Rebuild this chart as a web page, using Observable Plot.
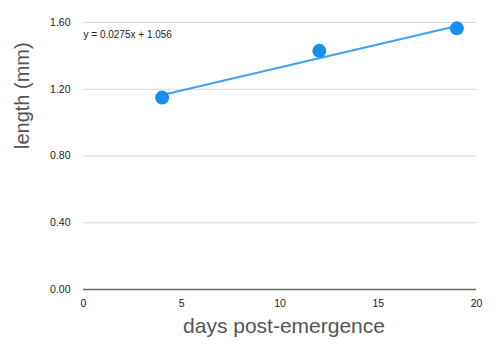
<!DOCTYPE html>
<html><head><meta charset="utf-8">
<script src="https://cdn.jsdelivr.net/npm/d3@7"></script>
<script src="https://cdn.jsdelivr.net/npm/@observablehq/plot@0.6"></script>
<style>body{margin:0;background:#fff;font-family:"Liberation Sans",Arial,sans-serif}</style>
</head><body><div id="chart"></div>
<script>
const days = [4, 12, 19];
const lengths = [1.15, 1.43, 1.565];
const xTicks = [0, 5, 10, 15, 20];
const yTicks = [0, 0.4, 0.8, 1.2, 1.6];
const slope = 0.0275, intercept = 1.056;
const equation = "y = 0.0275x + 1.056";

const pts = days.map((d, i) => ({d, l: lengths[i]}));
const trend = [d3.min(days), d3.max(days)].map(d => ({d, l: slope * d + intercept}));

const chart = Plot.plot({
  width: 500, height: 350,
  marginLeft: 83, marginRight: 24, marginTop: 22, marginBottom: 61,
  style: {fontFamily: "Liberation Sans, Arial, sans-serif", fontSize: "10px", color: "#333", background: "#fff"},
  x: {domain: [0, 20], ticks: xTicks, tickSize: 0, tickPadding: 10, label: null},
  y: {domain: [0, 1.6], ticks: yTicks, tickSize: 0, tickPadding: 13, tickFormat: d3.format(".2f"), label: null},
  marks: [
    Plot.ruleY(yTicks.filter(t => t > 0), {stroke: "#d8d8d8", strokeWidth: 1}),
    Plot.ruleY([0], {stroke: "#666", strokeWidth: 1.5}),
    Plot.axisX({ticks: xTicks, tickSize: 0, tickPadding: 10, label: null, fontSize: 10.5, fill: "#222"}),
    Plot.axisY({ticks: yTicks, tickSize: 0, tickPadding: 13, tickFormat: d3.format(".2f"), label: null, fontSize: 10.5, fill: "#222"}),
    Plot.line(trend, {x: "d", y: "l", stroke: "#3ba3f2", strokeWidth: 2}),
    Plot.dot(pts, {x: "d", y: "l", r: 7, fill: "#1590ee", stroke: "none"}),
    Plot.text([equation], {frameAnchor: "top-left", dx: 0, dy: 8, text: d => d, fontSize: 10, fill: "#222", textAnchor: "start"}),
    Plot.text(["days post-emergence"], {frameAnchor: "bottom", dx: 4, dy: 43, text: d => d, fontSize: 21, fill: "#555"}),
    Plot.text(["length (mm)"], {frameAnchor: "left", dx: -61, dy: -7, rotate: -90, text: d => d, fontSize: 20, fill: "#555"})
  ]
});
document.getElementById("chart").append(chart);
</script>
</body></html>
